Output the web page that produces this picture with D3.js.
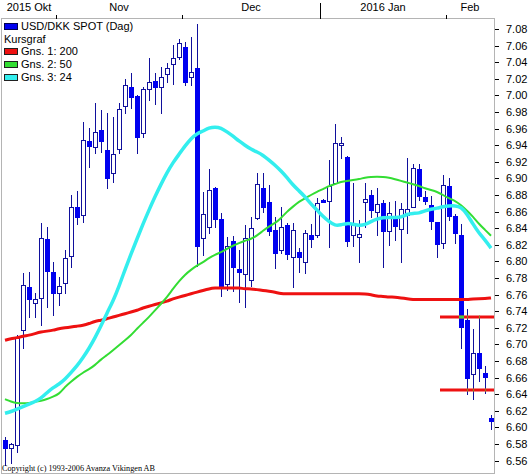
<!DOCTYPE html>
<html>
<head>
<meta charset="utf-8">
<script src="https://cdn.jsdelivr.net/npm/d3@7"></script>
<style>
  body { margin: 0; background: #fff; }
  text { font-family: "Liberation Sans", Arial, sans-serif; font-size: 11px; }
  text.copy { font-family: "Liberation Serif", "Times New Roman", serif; font-size: 9px; }
</style>
</head>
<body>
<div id="chart"></div>
<script>
// trading days shown
var dates = [
  "2015-10-20","2015-10-21","2015-10-22","2015-10-23","2015-10-26","2015-10-27","2015-10-28","2015-10-29","2015-10-30",
  "2015-11-02","2015-11-03","2015-11-04","2015-11-05","2015-11-06","2015-11-09","2015-11-10","2015-11-11","2015-11-12","2015-11-13",
  "2015-11-16","2015-11-17","2015-11-18","2015-11-19","2015-11-20","2015-11-23","2015-11-24","2015-11-25","2015-11-26","2015-11-27","2015-11-30",
  "2015-12-01","2015-12-02","2015-12-03","2015-12-04","2015-12-07","2015-12-08","2015-12-09","2015-12-10","2015-12-11",
  "2015-12-14","2015-12-15","2015-12-16","2015-12-17","2015-12-18","2015-12-21","2015-12-22","2015-12-23","2015-12-24","2015-12-25",
  "2015-12-28","2015-12-29","2015-12-30","2015-12-31",
  "2016-01-01","2016-01-04","2016-01-05","2016-01-06","2016-01-07","2016-01-08","2016-01-11","2016-01-12","2016-01-13","2016-01-14","2016-01-15",
  "2016-01-18","2016-01-19","2016-01-20","2016-01-21","2016-01-22","2016-01-25","2016-01-26","2016-01-27","2016-01-28","2016-01-29",
  "2016-02-01","2016-02-02","2016-02-03","2016-02-04","2016-02-05","2016-02-08","2016-02-09","2016-02-10"
];

// USD/DKK daily OHLC
var open = [6.585,6.575,6.579,6.717,6.769,6.750,6.756,6.827,6.787,6.762,
            6.774,6.807,6.866,6.856,6.945,6.938,6.958,6.934,6.906,6.935,
            6.987,7.010,6.999,6.955,7.008,7.017,7.010,7.026,7.038,7.046,
            7.058,7.022,7.033,6.828,6.841,6.888,6.851,6.773,6.824,6.791,
            6.785,6.778,6.852,6.888,6.872,6.838,6.814,6.844,6.805,6.811,
            6.799,6.832,6.832,6.874,6.873,6.894,6.940,6.926,6.832,6.829,
            6.872,6.880,6.860,6.870,6.837,6.853,6.839,6.856,6.866,6.911,
            6.878,6.868,6.847,6.822,6.891,6.855,6.832,6.729,6.664,6.690,
            6.666,6.611];
var high = [6.588,6.581,6.711,6.786,6.787,6.762,6.846,6.841,6.799,6.781,
            6.814,6.880,6.885,6.968,6.961,6.991,6.982,6.979,6.974,6.991,
            7.020,7.027,7.000,7.010,7.045,7.027,7.034,7.039,7.061,7.068,
            7.064,7.070,7.086,6.884,6.911,6.890,6.858,6.829,6.831,6.814,
            6.844,6.853,6.907,6.907,6.892,6.853,6.866,6.846,6.846,6.816,
            6.838,6.845,6.876,6.875,6.922,6.966,6.950,6.927,6.894,6.850,
            6.894,6.886,6.888,6.874,6.872,6.873,6.870,6.925,6.917,6.917,
            6.885,6.879,6.847,6.904,6.900,6.857,6.845,6.743,6.719,6.733,
            6.674,6.615];
var low  = [6.555,6.557,6.570,6.696,6.733,6.733,6.723,6.745,6.735,6.747,
            6.762,6.793,6.845,6.847,6.914,6.931,6.932,6.888,6.896,6.931,
            6.979,6.985,6.931,6.950,6.994,6.990,6.979,7.016,7.014,7.044,
            7.013,7.013,6.794,6.808,6.834,6.841,6.758,6.766,6.764,6.751,
            6.745,6.770,6.851,6.860,6.832,6.792,6.810,6.803,6.769,6.787,
            6.786,6.817,6.829,6.871,6.817,6.894,6.925,6.819,6.819,6.799,
            6.841,6.853,6.832,6.793,6.820,6.826,6.799,6.834,6.866,6.874,
            6.869,6.839,6.805,6.816,6.850,6.822,6.696,6.640,6.634,6.656,
            6.641,6.598];
var close = [6.575,6.580,6.709,6.772,6.755,6.755,6.828,6.788,6.762,6.770,
             6.804,6.866,6.854,6.946,6.939,6.956,6.945,6.900,6.929,6.984,
             7.013,6.998,6.950,7.008,7.016,7.010,7.022,7.033,7.045,7.063,
             7.016,7.028,6.819,6.857,6.886,6.851,6.769,6.819,6.793,6.787,
             6.828,6.840,6.893,6.866,6.837,6.810,6.841,6.809,6.838,6.805,
             6.834,6.827,6.870,6.872,6.891,6.943,6.943,6.825,6.846,6.833,
             6.875,6.862,6.869,6.837,6.858,6.843,6.863,6.863,6.913,6.879,
             6.873,6.849,6.821,6.892,6.855,6.834,6.721,6.660,6.690,6.672,
             6.661,6.608];

// moving averages (Gns. 1: 200, Gns. 2: 50, Gns. 3: 24)
var ma200 = [6.705,6.707,6.708,6.710,6.711,6.713,6.715,6.716,6.717,6.719,
             6.720,6.721,6.722,6.723,6.725,6.728,6.729,6.731,6.733,6.735,
             6.737,6.739,6.741,6.744,6.746,6.748,6.750,6.752,6.755,6.757,
             6.759,6.761,6.763,6.765,6.767,6.768,6.768,6.768,6.768,6.768,
             6.767,6.767,6.766,6.765,6.764,6.763,6.761,6.761,6.761,6.761,
             6.761,6.761,6.761,6.761,6.761,6.761,6.761,6.761,6.761,6.761,
             6.761,6.760,6.758,6.758,6.757,6.757,6.756,6.755,6.754,6.754,
             6.754,6.754,6.754,6.754,6.754,6.754,6.754,6.754,6.755,6.755,
             6.755,6.756];
var ma50 = [6.634,6.631,6.629,6.629,6.629,6.631,6.632,6.634,6.637,6.640,
            6.649,6.655,6.661,6.666,6.670,6.675,6.682,6.687,6.693,6.699,
            6.705,6.711,6.719,6.726,6.733,6.741,6.749,6.757,6.767,6.776,
            6.784,6.790,6.795,6.799,6.804,6.808,6.811,6.815,6.819,6.822,
            6.825,6.827,6.831,6.837,6.842,6.846,6.852,6.860,6.866,6.872,
            6.876,6.880,6.884,6.887,6.891,6.893,6.896,6.897,6.898,6.899,
            6.901,6.902,6.902,6.902,6.901,6.899,6.897,6.895,6.893,6.891,
            6.888,6.886,6.884,6.880,6.876,6.873,6.868,6.861,6.854,6.845,
            6.838,6.831];
var ma24 = [6.617,6.619,6.622,6.625,6.628,6.631,6.635,6.642,6.648,6.652,
            6.658,6.666,6.674,6.684,6.695,6.708,6.722,6.738,6.752,6.770,
            6.790,6.809,6.827,6.845,6.862,6.878,6.893,6.907,6.919,6.929,
            6.939,6.948,6.954,6.957,6.961,6.962,6.961,6.956,6.951,6.945,
            6.940,6.935,6.932,6.928,6.922,6.916,6.909,6.901,6.892,6.885,
            6.878,6.869,6.862,6.854,6.848,6.843,6.844,6.846,6.845,6.843,
            6.844,6.848,6.851,6.853,6.853,6.853,6.853,6.857,6.858,6.858,
            6.861,6.863,6.864,6.866,6.867,6.867,6.866,6.857,6.845,6.834,
            6.826,6.816];

// drawn support / resistance levels
var levels = [6.733, 6.645];
var levelFrom = "2016-01-29";

var yTicks = [6.56,6.58,6.60,6.62,6.64,6.66,6.68,6.70,6.72,6.74,6.76,6.78,6.80,6.82,
              6.84,6.86,6.88,6.90,6.92,6.94,6.96,6.98,7.00,7.02,7.04,7.06,7.08];
var monthNames = ["Jan","Feb","Mar","Apr","Maj","Jun","Jul","Aug","Sep","Okt","Nov","Dec"];

var legendItems = [
  {label: "Gns. 1: 200", color: "#ee1111"},
  {label: "Gns. 2: 50",  color: "#33dd33"},
  {label: "Gns. 3: 24",  color: "#33eeee"}
];

var W = 530, H = 475;
var plotL = 2, plotR = 494, plotT = 19, plotB = 474;
var wickColor = "#10109c", bodyColor = "#0000f0";

var svg = d3.select("#chart").append("svg")
    .attr("width", W)
    .attr("height", H);

var parse = d3.utcParse("%Y-%m-%d");
var data = dates.map(function(d, i) {
    return {i: i, date: parse(d), o: open[i], h: high[i], l: low[i], c: close[i]};
});

var x = d3.scaleBand().domain(d3.range(data.length)).range([plotL, plotR]);
var y = d3.scaleLinear().domain([6.56, 7.08]).range([460.6, 29]);
function cx(i) { return x(i) + x.bandwidth() / 2; }

// frame
svg.append("rect")
    .attr("x", plotL - 0.5).attr("y", plotT - 0.5)
    .attr("width", plotR - plotL + 1).attr("height", plotB - plotT)
    .attr("fill", "none").attr("stroke", "#b4b4b4");

// candles
var candle = svg.append("g").attr("shape-rendering", "crispEdges")
    .selectAll("g").data(data).enter().append("g");

candle.append("line")
    .attr("x1", function(d) { return cx(d.i) + 0.5; })
    .attr("x2", function(d) { return cx(d.i) + 0.5; })
    .attr("y1", function(d) { return Math.round(y(d.h)); })
    .attr("y2", function(d) { return Math.round(y(d.l)) + 1; })
    .attr("stroke", wickColor);

candle.append("rect")
    .attr("x", function(d) { return d.c < d.o ? cx(d.i) - 2 : cx(d.i) - 1.5; })
    .attr("y", function(d) {
        var t = Math.round(y(Math.max(d.o, d.c)));
        return d.c < d.o ? t : t + 0.5;
    })
    .attr("width", function(d) { return d.c < d.o ? 5 : 4; })
    .attr("height", function(d) {
        var h = Math.round(y(Math.min(d.o, d.c))) - Math.round(y(Math.max(d.o, d.c)));
        return Math.max(d.c < d.o ? h + 1 : h, 1);
    })
    .attr("fill", function(d) { return d.c < d.o ? bodyColor : "#fff"; })
    .attr("stroke", function(d) { return d.c < d.o ? "none" : wickColor; });

// moving averages
var line = d3.line()
    .x(function(d, i) { return cx(i); })
    .y(function(d) { return y(d); })
    .curve(d3.curveBasis);

[[ma200, "#ee1111", 3], [ma50, "#33dd33", 2], [ma24, "#33eeee", 3.5]].forEach(function(s) {
    svg.append("path")
        .attr("d", line(s[0]))
        .attr("fill", "none")
        .attr("stroke", s[1])
        .attr("stroke-width", s[2])
        .attr("stroke-linejoin", "round");
});

// support / resistance lines, with the crossing marks
var fromIdx = dates.indexOf(levelFrom);
levels.forEach(function(lv) {
    svg.append("line")
        .attr("x1", x(fromIdx)).attr("x2", plotR)
        .attr("y1", y(lv)).attr("y2", y(lv))
        .attr("stroke", "#ee1111").attr("stroke-width", 3);

    data.filter(function(d) { return d.i >= fromIdx && d.l <= lv && d.h >= lv; })
        .forEach(function(d) {
            var inBody = lv >= Math.min(d.o, d.c) && lv <= Math.max(d.o, d.c);
            svg.append("rect")
                .attr("x", inBody ? cx(d.i) - 2 : cx(d.i))
                .attr("y", y(lv) - 1.5)
                .attr("width", inBody ? 5 : 1)
                .attr("height", 3)
                .attr("fill", inBody ? "#44cc44" : "#8a8a22");
        });
});

// month axis on top
var months = [];
data.forEach(function(d) {
    var m = d.date.getUTCMonth();
    if (!months.length || months[months.length - 1].m !== m)
        months.push({m: m, year: d.date.getUTCFullYear(), start: d.i, end: d.i});
    else months[months.length - 1].end = d.i;
});

var monthAxis = svg.append("g").attr("shape-rendering", "crispEdges");
months.forEach(function(mo, k) {
    var x0 = k === 0 ? plotL : x(mo.start);
    var x1 = k === months.length - 1 ? plotR : x(mo.end) + x.bandwidth();
    if (k > 0) {
        monthAxis.append("line")
            .attr("x1", x0 + 0.5).attr("x2", x0 + 0.5)
            .attr("y1", mo.m === 0 ? 3 : 15).attr("y2", plotT)
            .attr("stroke", "#000");
    }
    monthAxis.append("text")
        .attr("x", (x0 + x1) / 2)
        .attr("y", 11)
        .attr("text-anchor", "middle")
        .text((k === 0 || mo.m === 0 ? mo.year + " " : "") + monthNames[mo.m]);
});

// price axis on the right
var yAxis = svg.append("g")
    .attr("transform", "translate(" + (plotR + 1) + ",0)")
    .call(d3.axisRight(y).tickValues(yTicks).tickFormat(d3.format(".2f")).tickSize(4).tickPadding(7));
yAxis.select(".domain").remove();
yAxis.selectAll("line").attr("shape-rendering", "crispEdges");

// legend
var lg = svg.append("g").attr("shape-rendering", "crispEdges");
lg.append("rect").attr("x", 4.5).attr("y", 23.5).attr("width", 13).attr("height", 6)
    .attr("fill", bodyColor).attr("stroke", "#000050");
lg.append("text").attr("x", 21).attr("y", 30).text("USD/DKK SPOT (Dag)");
lg.append("text").attr("x", 4).attr("y", 43).text("Kursgraf");
legendItems.forEach(function(it, k) {
    var by = 55 + k * 13;
    lg.append("rect").attr("x", 4.5).attr("y", by - 6.5).attr("width", 13).attr("height", 6)
        .attr("fill", it.color).attr("stroke", "#202020");
    lg.append("text").attr("x", 21).attr("y", by).text(it.label);
});

// copyright
svg.append("text")
    .attr("class", "copy")
    .attr("x", 2).attr("y", 471)
    .attr("textLength", 153)
    .attr("lengthAdjust", "spacingAndGlyphs")
    .text("Copyright (c) 1993-2006 Avanza Vikingen AB");
</script>
</body>
</html>
